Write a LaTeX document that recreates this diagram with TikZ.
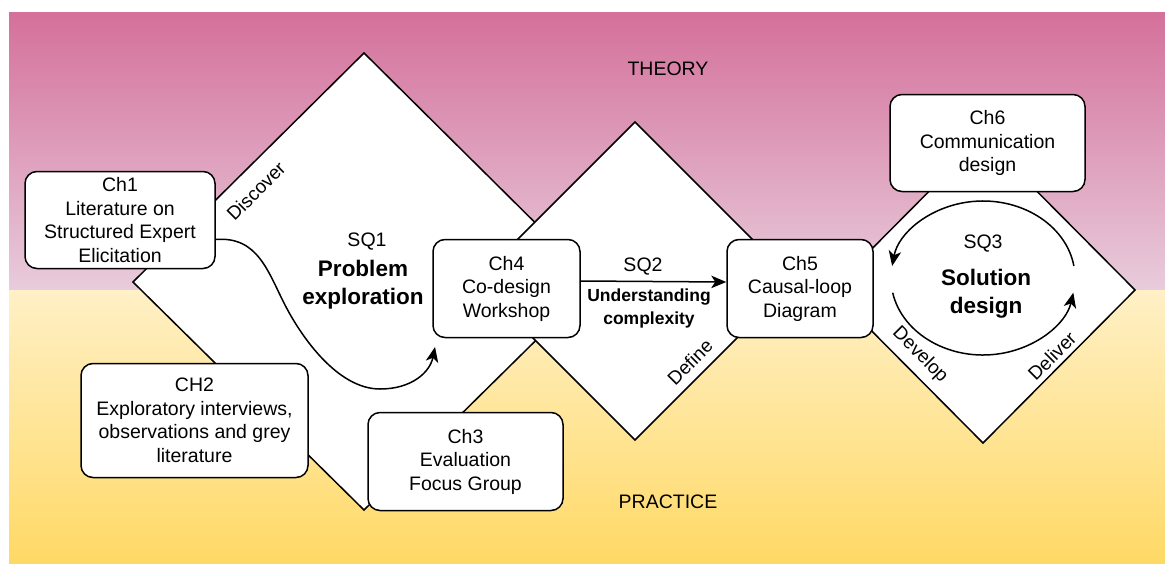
\documentclass[tikz,border=0pt]{standalone}
\usepackage{fontspec}
\setmainfont{Liberation Sans}
\usetikzlibrary{arrows.meta}
\definecolor{pinktop}{HTML}{D4709A}
\definecolor{pinkbot}{HTML}{E8CCDC}
\definecolor{yeltop}{HTML}{FFF0C6}
\definecolor{yelbot}{HTML}{FFD966}
\begin{document}
\begin{tikzpicture}[x=1pt,y=1pt,
  chbox/.style={draw=black, line width=1.5pt, fill=white, rounded corners=12pt,
    align=center, inner sep=0pt, font=\fontsize{19.5}{23.5}\selectfont},
  diam/.style={draw=black, line width=1.5pt, fill=white, line join=miter},
  arr/.style={line width=1.5pt, -{Stealth[length=15pt,width=12.5pt,inset=4pt]}},
  lbl/.style={font=\fontsize{19.5}{23.5}\selectfont, inner sep=0pt},
  bigbold/.style={font=\bfseries\fontsize{22.5}{28}\selectfont, align=center, inner sep=0pt},
  phase/.style={font=\fontsize{19}{22}\selectfont, inner sep=0pt}
]
\useasboundingbox (0,0) rectangle (1165,-563);
% background
\shade[top color=pinktop,bottom color=pinkbot] (9,-12) rectangle (1165,-290);
\shade[top color=yeltop,bottom color=yelbot] (9,-290) rectangle (1165,-563);
% diamonds
\draw[diam] (364,-53) -- (595,-282) -- (364,-510) -- (133,-282) -- cycle;
\draw[diam] (635,-122) -- (794,-281) -- (635,-440) -- (476,-281) -- cycle;
\draw[diam] (983,-137) -- (1135,-290) -- (983,-443) -- (831,-290) -- cycle;
% headings
\node[lbl] (theory) at (668,-69) {THEORY};
\node[lbl] (practice) at (668,-502) {PRACTICE};
% phase labels
\node[phase, rotate=45] (discover) at (256,-191) {Discover};
\node[phase, rotate=45] (define) at (690,-362) {Define};
\node[phase, rotate=-45] (develop) at (920,-355) {Develop};
\node[phase, rotate=45] (deliver) at (1052,-356) {Deliver};
% SQ labels
\node[lbl] (sq1) at (367,-242) {SQ1};
\node[bigbold] (pe) at (363,-285) {Problem\\exploration};
\node[lbl] (sq2) at (643,-267) {SQ2};
\node[font=\bfseries\fontsize{17.5}{23}\selectfont, align=center, inner sep=0pt] (uc) at (649,-308) {Understanding\\complexity};
\node[lbl] (sq3) at (983,-244) {SQ3};
\node[bigbold] (sd) at (986,-294) {Solution\\design};
% boxes
\node[chbox, minimum width=190pt, minimum height=97pt] (ch1) at (120,-220) {Ch1\\Literature on\\Structured Expert\\Elicitation};
\node[chbox, minimum width=227pt, minimum height=114pt] (ch2) at (194.5,-420.5) {CH2\\Exploratory interviews,\\observations and grey\\literature};
\node[chbox, minimum width=195pt, minimum height=98pt] (ch3) at (465.5,-461.5) {Ch3\\Evaluation\\Focus Group};
\node[chbox, minimum width=147pt, minimum height=98pt] (ch4) at (506.5,-288.5) {Ch4\\Co-design\\Workshop};
\node[chbox, minimum width=146pt, minimum height=98pt] (ch5) at (800,-288.5) {Ch5\\Causal-loop\\Diagram};
\node[chbox, minimum width=195pt, minimum height=97pt] (ch6) at (987.5,-143) {Ch6\\Communication\\design};
% connectors
\coordinate (c4in) at (435,-347);
\draw[arr] ([yshift=-19.5pt]ch1.east) .. controls (258,-236) and (268,-272) .. (285,-305)
  .. controls (302,-338) and (338,-389) .. (380,-389)
  .. controls (412,-389) and (430,-372) .. (c4in);
\draw[arr] ([yshift=7.5pt]ch4.east) -- ([yshift=6.5pt]ch5.west);
% cycle arrows
\coordinate (cyc) at (983,-278);
\draw[arr] (cyc) ++(9:92 and 77) arc[start angle=9, end angle=171, x radius=92, y radius=77];
\draw[arr] (cyc) ++(191:92 and 77) arc[start angle=191, end angle=349, x radius=92, y radius=77];
\end{tikzpicture}
\end{document}
